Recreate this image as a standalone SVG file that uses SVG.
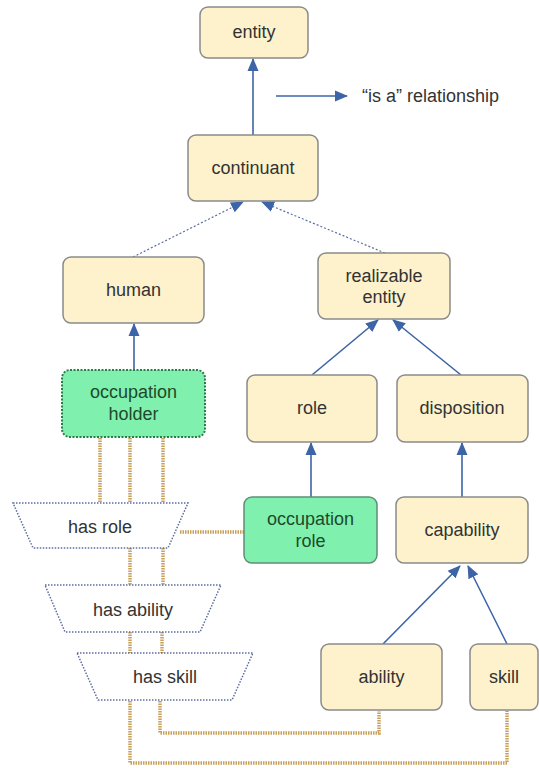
<svg xmlns="http://www.w3.org/2000/svg" width="539" height="768" viewBox="0 0 539 768">
<style>
.box{fill:#fdf2cc;stroke:#8a8a8a;stroke-width:1.5}
.grn{fill:#80f0ae;stroke:#5f8f78;stroke-width:1.5}
.grnd{fill:#80f0ae;stroke:#2f7a4a;stroke-width:2;stroke-dasharray:2 1.5}
.trap{fill:#ffffff;stroke:#5a6ea0;stroke-width:1.5;stroke-dasharray:1.5 1.5}
text{font-family:"Liberation Sans",Arial,sans-serif;font-size:18px;fill:#333;text-anchor:middle}
.gt{fill:#1d4a2a}
.isa{stroke:#3d64a6;stroke-width:1.6;fill:none}
.isad{stroke:#5a6ea0;stroke-width:1.2;fill:none;stroke-dasharray:2 2}
.rel{stroke:#c9a05a;stroke-width:3.5;fill:none;stroke-dasharray:1.5 1}
</style>
<defs>
<marker id="ah" markerUnits="userSpaceOnUse" markerWidth="13" markerHeight="13" viewBox="0 0 13 13" refX="12" refY="6.5" orient="auto">
<path d="M0,1 L13,6.5 L0,12 Z" fill="#3d64a6"/>
</marker>
</defs>
<g id="connectors">
<line class="isa" x1="253" y1="135" x2="253" y2="59" marker-end="url(#ah)"/>
<line class="isa" x1="276" y1="96" x2="347" y2="96" marker-end="url(#ah)"/>
<line class="isad" x1="133" y1="257" x2="243" y2="202" marker-end="url(#ah)"/>
<line class="isad" x1="385" y1="253" x2="262" y2="202" marker-end="url(#ah)"/>
<line class="isa" x1="134" y1="370" x2="134" y2="324" marker-end="url(#ah)"/>
<line class="isa" x1="312" y1="375" x2="378" y2="320" marker-end="url(#ah)"/>
<line class="isa" x1="461" y1="375" x2="393" y2="320" marker-end="url(#ah)"/>
<line class="isa" x1="311" y1="497" x2="311" y2="443" marker-end="url(#ah)"/>
<line class="isa" x1="462" y1="497" x2="462" y2="443" marker-end="url(#ah)"/>
<line class="isa" x1="383" y1="644" x2="460" y2="566" marker-end="url(#ah)"/>
<line class="isa" x1="507" y1="644" x2="468" y2="566" marker-end="url(#ah)"/>
<line class="rel" x1="100" y1="438" x2="100" y2="503"/>
<line class="rel" x1="130" y1="438" x2="130" y2="503"/>
<line class="rel" x1="163" y1="438" x2="163" y2="503"/>
<line class="rel" x1="130" y1="548" x2="130" y2="585"/>
<line class="rel" x1="163" y1="548" x2="163" y2="585"/>
<line class="rel" x1="130" y1="632" x2="130" y2="653"/>
<line class="rel" x1="162" y1="632" x2="162" y2="653"/>
<line class="rel" x1="180" y1="532" x2="244" y2="532"/>
<polyline class="rel" points="160,701 160,733 379,733 379,711"/>
<polyline class="rel" points="130,701 130,763 507,763 507,711"/>
</g>
<g id="legend"><text x="362" y="102" style="text-anchor:start">“is a” relationship</text></g>
<g id="entity"><rect class="box" x="200" y="7" width="108" height="51" rx="8"/><text x="254" y="38">entity</text></g>
<g id="continuant"><rect class="box" x="188" y="135" width="130" height="66" rx="8"/><text x="253" y="174">continuant</text></g>
<g id="human"><rect class="box" x="63" y="257" width="141" height="66" rx="8"/><text x="133.5" y="296">human</text></g>
<g id="occupation-holder"><rect class="grnd" x="62" y="370" width="143" height="67" rx="8"/><text class="gt" x="133.5" y="398">occupation</text><text class="gt" x="133.5" y="420">holder</text></g>
<g id="realizable-entity"><rect class="box" x="318" y="253" width="132" height="66" rx="8"/><text x="384" y="282">realizable</text><text x="384" y="303">entity</text></g>
<g id="role"><rect class="box" x="247" y="375" width="130" height="67" rx="8"/><text x="312" y="414">role</text></g>
<g id="disposition"><rect class="box" x="397" y="375" width="131" height="67" rx="8"/><text x="462" y="414">disposition</text></g>
<g id="occupation-role"><rect class="grn" x="244" y="497" width="133" height="66" rx="8"/><text class="gt" x="310.5" y="525">occupation</text><text class="gt" x="310.5" y="547">role</text></g>
<g id="capability"><rect class="box" x="396" y="497" width="132" height="66" rx="8"/><text x="462" y="536">capability</text></g>
<g id="ability"><rect class="box" x="321" y="644" width="121" height="66" rx="8"/><text x="381.5" y="683">ability</text></g>
<g id="skill"><rect class="box" x="470" y="644" width="68" height="66" rx="8"/><text x="504" y="683">skill</text></g>
<g id="has-role"><polygon class="trap" points="13,503 188,503 168,548 33,548"/><text x="100" y="533">has role</text></g>
<g id="has-ability"><polygon class="trap" points="45,585 221,585 200,632 65,632"/><text x="133" y="616">has ability</text></g>
<g id="has-skill"><polygon class="trap" points="77,653 253,653 232,700 98,700"/><text x="165" y="683">has skill</text></g>
</svg>
